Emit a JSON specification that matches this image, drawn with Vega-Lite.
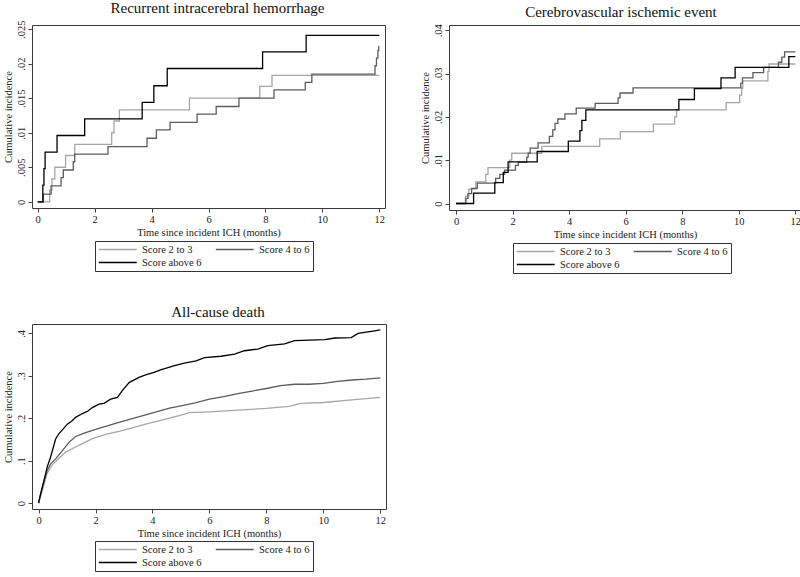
{
  "$schema": "https://vega.github.io/schema/vega-lite/v6.json",
  "background": "white",
  "padding": {"left": 2, "top": 0, "right": 0, "bottom": 0},
  "columns": 2,
  "spacing": {"row": 30, "column": 32},
  "align": "each",
  "resolve": {
    "scale": {"x": "independent", "y": "independent", "color": "independent", "strokeWidth": "independent"},
    "legend": {"color": "independent"}
  },
  "data": {
    "values": [
      {"panel": "a", "group": "Score 2 to 3", "t": 0, "ci": 0},
      {"panel": "a", "group": "Score 2 to 3", "t": 0.42, "ci": 0.0017},
      {"panel": "a", "group": "Score 2 to 3", "t": 0.5, "ci": 0.0033},
      {"panel": "a", "group": "Score 2 to 3", "t": 0.6, "ci": 0.005},
      {"panel": "a", "group": "Score 2 to 3", "t": 0.98, "ci": 0.0067},
      {"panel": "a", "group": "Score 2 to 3", "t": 1.3, "ci": 0.0083},
      {"panel": "a", "group": "Score 2 to 3", "t": 2.6, "ci": 0.01},
      {"panel": "a", "group": "Score 2 to 3", "t": 2.68, "ci": 0.0117},
      {"panel": "a", "group": "Score 2 to 3", "t": 2.87, "ci": 0.0133},
      {"panel": "a", "group": "Score 2 to 3", "t": 5.33, "ci": 0.015},
      {"panel": "a", "group": "Score 2 to 3", "t": 7.8, "ci": 0.0167},
      {"panel": "a", "group": "Score 2 to 3", "t": 8.23, "ci": 0.0183},
      {"panel": "a", "group": "Score 2 to 3", "t": 12, "ci": 0.0183},

      {"panel": "a", "group": "Score 4 to 6", "t": 0, "ci": 0},
      {"panel": "a", "group": "Score 4 to 6", "t": 0.2, "ci": 0.0011},
      {"panel": "a", "group": "Score 4 to 6", "t": 0.47, "ci": 0.0023},
      {"panel": "a", "group": "Score 4 to 6", "t": 0.82, "ci": 0.0035},
      {"panel": "a", "group": "Score 4 to 6", "t": 0.9, "ci": 0.0046},
      {"panel": "a", "group": "Score 4 to 6", "t": 1.25, "ci": 0.0058},
      {"panel": "a", "group": "Score 4 to 6", "t": 1.3, "ci": 0.0069},
      {"panel": "a", "group": "Score 4 to 6", "t": 2.47, "ci": 0.008},
      {"panel": "a", "group": "Score 4 to 6", "t": 3.84, "ci": 0.0092},
      {"panel": "a", "group": "Score 4 to 6", "t": 4.17, "ci": 0.0104},
      {"panel": "a", "group": "Score 4 to 6", "t": 4.65, "ci": 0.0115},
      {"panel": "a", "group": "Score 4 to 6", "t": 5.6, "ci": 0.0127},
      {"panel": "a", "group": "Score 4 to 6", "t": 6.27, "ci": 0.0138},
      {"panel": "a", "group": "Score 4 to 6", "t": 7.07, "ci": 0.015},
      {"panel": "a", "group": "Score 4 to 6", "t": 8.3, "ci": 0.0162},
      {"panel": "a", "group": "Score 4 to 6", "t": 9.4, "ci": 0.0173},
      {"panel": "a", "group": "Score 4 to 6", "t": 9.63, "ci": 0.0185},
      {"panel": "a", "group": "Score 4 to 6", "t": 11.85, "ci": 0.0197},
      {"panel": "a", "group": "Score 4 to 6", "t": 11.9, "ci": 0.0208},
      {"panel": "a", "group": "Score 4 to 6", "t": 11.95, "ci": 0.0219},
      {"panel": "a", "group": "Score 4 to 6", "t": 11.98, "ci": 0.0225},
      {"panel": "a", "group": "Score 4 to 6", "t": 12, "ci": 0.0225},

      {"panel": "a", "group": "Score above 6", "t": 0, "ci": 0},
      {"panel": "a", "group": "Score above 6", "t": 0.18, "ci": 0.0024},
      {"panel": "a", "group": "Score above 6", "t": 0.22, "ci": 0.0048},
      {"panel": "a", "group": "Score above 6", "t": 0.26, "ci": 0.0072},
      {"panel": "a", "group": "Score above 6", "t": 0.68, "ci": 0.0096},
      {"panel": "a", "group": "Score above 6", "t": 1.65, "ci": 0.012},
      {"panel": "a", "group": "Score above 6", "t": 3.67, "ci": 0.0144},
      {"panel": "a", "group": "Score above 6", "t": 4.08, "ci": 0.0168},
      {"panel": "a", "group": "Score above 6", "t": 4.55, "ci": 0.0193},
      {"panel": "a", "group": "Score above 6", "t": 7.9, "ci": 0.0217},
      {"panel": "a", "group": "Score above 6", "t": 9.43, "ci": 0.0241},
      {"panel": "a", "group": "Score above 6", "t": 12, "ci": 0.0241},

      {"panel": "b", "group": "Score 2 to 3", "t": 0, "ci": 0},
      {"panel": "b", "group": "Score 2 to 3", "t": 0.33, "ci": 0.0017},
      {"panel": "b", "group": "Score 2 to 3", "t": 0.45, "ci": 0.0033},
      {"panel": "b", "group": "Score 2 to 3", "t": 0.7, "ci": 0.005},
      {"panel": "b", "group": "Score 2 to 3", "t": 1.05, "ci": 0.0067},
      {"panel": "b", "group": "Score 2 to 3", "t": 1.13, "ci": 0.0083},
      {"panel": "b", "group": "Score 2 to 3", "t": 1.9, "ci": 0.01},
      {"panel": "b", "group": "Score 2 to 3", "t": 1.97, "ci": 0.0116},
      {"panel": "b", "group": "Score 2 to 3", "t": 3.03, "ci": 0.0132},
      {"panel": "b", "group": "Score 2 to 3", "t": 5.08, "ci": 0.0149},
      {"panel": "b", "group": "Score 2 to 3", "t": 5.81, "ci": 0.0166},
      {"panel": "b", "group": "Score 2 to 3", "t": 6.98, "ci": 0.0183},
      {"panel": "b", "group": "Score 2 to 3", "t": 7.73, "ci": 0.02},
      {"panel": "b", "group": "Score 2 to 3", "t": 7.8, "ci": 0.0216},
      {"panel": "b", "group": "Score 2 to 3", "t": 9.55, "ci": 0.0233},
      {"panel": "b", "group": "Score 2 to 3", "t": 10.03, "ci": 0.025},
      {"panel": "b", "group": "Score 2 to 3", "t": 10.1, "ci": 0.0266},
      {"panel": "b", "group": "Score 2 to 3", "t": 10.14, "ci": 0.0283},
      {"panel": "b", "group": "Score 2 to 3", "t": 11.03, "ci": 0.0305},
      {"panel": "b", "group": "Score 2 to 3", "t": 11.07, "ci": 0.0322},
      {"panel": "b", "group": "Score 2 to 3", "t": 12, "ci": 0.0322},

      {"panel": "b", "group": "Score 4 to 6", "t": 0, "ci": 0},
      {"panel": "b", "group": "Score 4 to 6", "t": 0.35, "ci": 0.0012},
      {"panel": "b", "group": "Score 4 to 6", "t": 0.42, "ci": 0.0023},
      {"panel": "b", "group": "Score 4 to 6", "t": 0.55, "ci": 0.0035},
      {"panel": "b", "group": "Score 4 to 6", "t": 0.75, "ci": 0.0047},
      {"panel": "b", "group": "Score 4 to 6", "t": 1.4, "ci": 0.0058},
      {"panel": "b", "group": "Score 4 to 6", "t": 1.55, "ci": 0.0067},
      {"panel": "b", "group": "Score 4 to 6", "t": 1.72, "ci": 0.0077},
      {"panel": "b", "group": "Score 4 to 6", "t": 2.1, "ci": 0.0088},
      {"panel": "b", "group": "Score 4 to 6", "t": 2.2, "ci": 0.0095},
      {"panel": "b", "group": "Score 4 to 6", "t": 2.5, "ci": 0.0107},
      {"panel": "b", "group": "Score 4 to 6", "t": 2.55, "ci": 0.0116},
      {"panel": "b", "group": "Score 4 to 6", "t": 2.62, "ci": 0.0128},
      {"panel": "b", "group": "Score 4 to 6", "t": 2.9, "ci": 0.014},
      {"panel": "b", "group": "Score 4 to 6", "t": 3.3, "ci": 0.0155},
      {"panel": "b", "group": "Score 4 to 6", "t": 3.42, "ci": 0.017},
      {"panel": "b", "group": "Score 4 to 6", "t": 3.5, "ci": 0.0185},
      {"panel": "b", "group": "Score 4 to 6", "t": 3.6, "ci": 0.0195},
      {"panel": "b", "group": "Score 4 to 6", "t": 3.85, "ci": 0.0207},
      {"panel": "b", "group": "Score 4 to 6", "t": 4.25, "ci": 0.022},
      {"panel": "b", "group": "Score 4 to 6", "t": 4.92, "ci": 0.0231},
      {"panel": "b", "group": "Score 4 to 6", "t": 5.73, "ci": 0.0244},
      {"panel": "b", "group": "Score 4 to 6", "t": 5.8, "ci": 0.0255},
      {"panel": "b", "group": "Score 4 to 6", "t": 6.26, "ci": 0.0267},
      {"panel": "b", "group": "Score 4 to 6", "t": 10.07, "ci": 0.0278},
      {"panel": "b", "group": "Score 4 to 6", "t": 10.13, "ci": 0.029},
      {"panel": "b", "group": "Score 4 to 6", "t": 10.5, "ci": 0.0302},
      {"panel": "b", "group": "Score 4 to 6", "t": 10.88, "ci": 0.0314},
      {"panel": "b", "group": "Score 4 to 6", "t": 11.4, "ci": 0.0326},
      {"panel": "b", "group": "Score 4 to 6", "t": 11.52, "ci": 0.0338},
      {"panel": "b", "group": "Score 4 to 6", "t": 11.62, "ci": 0.035},
      {"panel": "b", "group": "Score 4 to 6", "t": 12, "ci": 0.035},

      {"panel": "b", "group": "Score above 6", "t": 0, "ci": 0},
      {"panel": "b", "group": "Score above 6", "t": 0.62, "ci": 0.0024},
      {"panel": "b", "group": "Score above 6", "t": 1.37, "ci": 0.0048},
      {"panel": "b", "group": "Score above 6", "t": 1.67, "ci": 0.0072},
      {"panel": "b", "group": "Score above 6", "t": 1.84, "ci": 0.0096},
      {"panel": "b", "group": "Score above 6", "t": 2.87, "ci": 0.012},
      {"panel": "b", "group": "Score above 6", "t": 3.97, "ci": 0.0144},
      {"panel": "b", "group": "Score above 6", "t": 4.38, "ci": 0.0168},
      {"panel": "b", "group": "Score above 6", "t": 4.45, "ci": 0.0192},
      {"panel": "b", "group": "Score above 6", "t": 4.59, "ci": 0.0216},
      {"panel": "b", "group": "Score above 6", "t": 7.88, "ci": 0.024},
      {"panel": "b", "group": "Score above 6", "t": 8.43, "ci": 0.0265},
      {"panel": "b", "group": "Score above 6", "t": 9.37, "ci": 0.029},
      {"panel": "b", "group": "Score above 6", "t": 9.87, "ci": 0.0314},
      {"panel": "b", "group": "Score above 6", "t": 11.77, "ci": 0.0339},
      {"panel": "b", "group": "Score above 6", "t": 12, "ci": 0.0339},

      {"panel": "c", "group": "Score 2 to 3", "t": 0, "ci": 0},
      {"panel": "c", "group": "Score 2 to 3", "t": 0.13, "ci": 0.029},
      {"panel": "c", "group": "Score 2 to 3", "t": 0.3, "ci": 0.07},
      {"panel": "c", "group": "Score 2 to 3", "t": 0.48, "ci": 0.09},
      {"panel": "c", "group": "Score 2 to 3", "t": 0.71, "ci": 0.105},
      {"panel": "c", "group": "Score 2 to 3", "t": 0.95, "ci": 0.12},
      {"panel": "c", "group": "Score 2 to 3", "t": 1.18, "ci": 0.128},
      {"panel": "c", "group": "Score 2 to 3", "t": 1.54, "ci": 0.14},
      {"panel": "c", "group": "Score 2 to 3", "t": 1.89, "ci": 0.152},
      {"panel": "c", "group": "Score 2 to 3", "t": 2.36, "ci": 0.162},
      {"panel": "c", "group": "Score 2 to 3", "t": 2.82, "ci": 0.169},
      {"panel": "c", "group": "Score 2 to 3", "t": 3.29, "ci": 0.177},
      {"panel": "c", "group": "Score 2 to 3", "t": 3.76, "ci": 0.186},
      {"panel": "c", "group": "Score 2 to 3", "t": 4.29, "ci": 0.195},
      {"panel": "c", "group": "Score 2 to 3", "t": 4.6, "ci": 0.2},
      {"panel": "c", "group": "Score 2 to 3", "t": 5.0, "ci": 0.207},
      {"panel": "c", "group": "Score 2 to 3", "t": 5.3, "ci": 0.213},
      {"panel": "c", "group": "Score 2 to 3", "t": 6.0, "ci": 0.215},
      {"panel": "c", "group": "Score 2 to 3", "t": 7.0, "ci": 0.219},
      {"panel": "c", "group": "Score 2 to 3", "t": 8.0, "ci": 0.223},
      {"panel": "c", "group": "Score 2 to 3", "t": 8.8, "ci": 0.228},
      {"panel": "c", "group": "Score 2 to 3", "t": 9.2, "ci": 0.235},
      {"panel": "c", "group": "Score 2 to 3", "t": 10.0, "ci": 0.237},
      {"panel": "c", "group": "Score 2 to 3", "t": 11.0, "ci": 0.243},
      {"panel": "c", "group": "Score 2 to 3", "t": 12, "ci": 0.249},

      {"panel": "c", "group": "Score 4 to 6", "t": 0, "ci": 0},
      {"panel": "c", "group": "Score 4 to 6", "t": 0.13, "ci": 0.037},
      {"panel": "c", "group": "Score 4 to 6", "t": 0.3, "ci": 0.076},
      {"panel": "c", "group": "Score 4 to 6", "t": 0.42, "ci": 0.092},
      {"panel": "c", "group": "Score 4 to 6", "t": 0.6, "ci": 0.104},
      {"panel": "c", "group": "Score 4 to 6", "t": 0.83, "ci": 0.123},
      {"panel": "c", "group": "Score 4 to 6", "t": 1.07, "ci": 0.143},
      {"panel": "c", "group": "Score 4 to 6", "t": 1.3, "ci": 0.157},
      {"panel": "c", "group": "Score 4 to 6", "t": 1.65, "ci": 0.166},
      {"panel": "c", "group": "Score 4 to 6", "t": 2.12, "ci": 0.176},
      {"panel": "c", "group": "Score 4 to 6", "t": 2.47, "ci": 0.183},
      {"panel": "c", "group": "Score 4 to 6", "t": 2.82, "ci": 0.19},
      {"panel": "c", "group": "Score 4 to 6", "t": 3.29, "ci": 0.199},
      {"panel": "c", "group": "Score 4 to 6", "t": 3.76, "ci": 0.208},
      {"panel": "c", "group": "Score 4 to 6", "t": 4.29, "ci": 0.218},
      {"panel": "c", "group": "Score 4 to 6", "t": 4.6, "ci": 0.224},
      {"panel": "c", "group": "Score 4 to 6", "t": 5.0, "ci": 0.229},
      {"panel": "c", "group": "Score 4 to 6", "t": 5.5, "ci": 0.236},
      {"panel": "c", "group": "Score 4 to 6", "t": 6.0, "ci": 0.245},
      {"panel": "c", "group": "Score 4 to 6", "t": 6.5, "ci": 0.251},
      {"panel": "c", "group": "Score 4 to 6", "t": 7.0, "ci": 0.258},
      {"panel": "c", "group": "Score 4 to 6", "t": 7.5, "ci": 0.264},
      {"panel": "c", "group": "Score 4 to 6", "t": 8.0, "ci": 0.27},
      {"panel": "c", "group": "Score 4 to 6", "t": 8.5, "ci": 0.277},
      {"panel": "c", "group": "Score 4 to 6", "t": 9.0, "ci": 0.28},
      {"panel": "c", "group": "Score 4 to 6", "t": 9.5, "ci": 0.28},
      {"panel": "c", "group": "Score 4 to 6", "t": 10.0, "ci": 0.282},
      {"panel": "c", "group": "Score 4 to 6", "t": 10.5, "ci": 0.287},
      {"panel": "c", "group": "Score 4 to 6", "t": 11.0, "ci": 0.29},
      {"panel": "c", "group": "Score 4 to 6", "t": 11.5, "ci": 0.292},
      {"panel": "c", "group": "Score 4 to 6", "t": 12, "ci": 0.295},

      {"panel": "c", "group": "Score above 6", "t": 0, "ci": 0},
      {"panel": "c", "group": "Score above 6", "t": 0.07, "ci": 0.021},
      {"panel": "c", "group": "Score above 6", "t": 0.19, "ci": 0.053},
      {"panel": "c", "group": "Score above 6", "t": 0.3, "ci": 0.084},
      {"panel": "c", "group": "Score above 6", "t": 0.42, "ci": 0.108},
      {"panel": "c", "group": "Score above 6", "t": 0.6, "ci": 0.151},
      {"panel": "c", "group": "Score above 6", "t": 0.71, "ci": 0.163},
      {"panel": "c", "group": "Score above 6", "t": 0.83, "ci": 0.172},
      {"panel": "c", "group": "Score above 6", "t": 1.01, "ci": 0.186},
      {"panel": "c", "group": "Score above 6", "t": 1.18, "ci": 0.194},
      {"panel": "c", "group": "Score above 6", "t": 1.3, "ci": 0.202},
      {"panel": "c", "group": "Score above 6", "t": 1.54, "ci": 0.211},
      {"panel": "c", "group": "Score above 6", "t": 1.71, "ci": 0.216},
      {"panel": "c", "group": "Score above 6", "t": 1.89, "ci": 0.225},
      {"panel": "c", "group": "Score above 6", "t": 2.12, "ci": 0.233},
      {"panel": "c", "group": "Score above 6", "t": 2.3, "ci": 0.235},
      {"panel": "c", "group": "Score above 6", "t": 2.53, "ci": 0.245},
      {"panel": "c", "group": "Score above 6", "t": 2.77, "ci": 0.249},
      {"panel": "c", "group": "Score above 6", "t": 2.94, "ci": 0.265},
      {"panel": "c", "group": "Score above 6", "t": 3.18, "ci": 0.284},
      {"panel": "c", "group": "Score above 6", "t": 3.29, "ci": 0.288},
      {"panel": "c", "group": "Score above 6", "t": 3.53, "ci": 0.296},
      {"panel": "c", "group": "Score above 6", "t": 3.76, "ci": 0.302},
      {"panel": "c", "group": "Score above 6", "t": 4.05, "ci": 0.308},
      {"panel": "c", "group": "Score above 6", "t": 4.29, "ci": 0.314},
      {"panel": "c", "group": "Score above 6", "t": 4.77, "ci": 0.324},
      {"panel": "c", "group": "Score above 6", "t": 5.12, "ci": 0.33},
      {"panel": "c", "group": "Score above 6", "t": 5.53, "ci": 0.335},
      {"panel": "c", "group": "Score above 6", "t": 5.83, "ci": 0.343},
      {"panel": "c", "group": "Score above 6", "t": 6.41, "ci": 0.346},
      {"panel": "c", "group": "Score above 6", "t": 6.88, "ci": 0.351},
      {"panel": "c", "group": "Score above 6", "t": 7.23, "ci": 0.359},
      {"panel": "c", "group": "Score above 6", "t": 7.7, "ci": 0.363},
      {"panel": "c", "group": "Score above 6", "t": 8.05, "ci": 0.371},
      {"panel": "c", "group": "Score above 6", "t": 8.64, "ci": 0.375},
      {"panel": "c", "group": "Score above 6", "t": 8.99, "ci": 0.383},
      {"panel": "c", "group": "Score above 6", "t": 10.05, "ci": 0.385},
      {"panel": "c", "group": "Score above 6", "t": 10.4, "ci": 0.389},
      {"panel": "c", "group": "Score above 6", "t": 10.98, "ci": 0.39},
      {"panel": "c", "group": "Score above 6", "t": 11.22, "ci": 0.4},
      {"panel": "c", "group": "Score above 6", "t": 11.8, "ci": 0.406},
      {"panel": "c", "group": "Score above 6", "t": 12, "ci": 0.408}
    ]
  },
  "concat": [
    {
      "width": 353, "height": 183,
      "title": {"text": "Recurrent intracerebral  hemorrhage", "dx": 9},
      "transform": [{"filter": {"field": "panel", "equal": "a"}}],
      "mark": {"type": "line", "interpolate": "step-after"},
      "encoding": {
        "x": {"field": "t", "type": "quantitative", "scale": {"domain": [-0.2, 12.2], "nice": false, "zero": false},
              "axis": {"values": [0, 2, 4, 6, 8, 10, 12], "title": "Time since incident ICH (months)"}},
        "y": {"field": "ci", "type": "quantitative", "scale": {"domain": [-0.0009, 0.0256], "nice": false, "zero": false},
              "axis": {"values": [0, 0.005, 0.01, 0.015, 0.02, 0.025], "title": "Cumulative incidence",
                       "labelExpr": "datum.value == 0 ? '0' : substring(format(datum.value, '.3~f'), 1)"}},
        "color": {"field": "group", "type": "nominal",
                  "scale": {"domain": ["Score 2 to 3", "Score 4 to 6", "Score above 6"], "range": ["#a6a6a6", "#5c5c5c", "#000000"]},
                  "legend": {"orient": "none", "legendX": 63, "legendY": 216, "title": null}},
        "strokeWidth": {"field": "group", "type": "ordinal",
                        "scale": {"domain": ["Score 2 to 3", "Score 4 to 6", "Score above 6"], "range": [1.3, 1.3, 1.7]},
                        "legend": null}
      }
    },
    {
      "width": 352, "height": 185,
      "title": {"text": "Cerebrovascular ischemic event", "dx": -4},
      "transform": [{"filter": {"field": "panel", "equal": "b"}}],
      "mark": {"type": "line", "interpolate": "step-after"},
      "encoding": {
        "x": {"field": "t", "type": "quantitative", "scale": {"domain": [-0.25, 12.2], "nice": false, "zero": false},
              "axis": {"values": [0, 2, 4, 6, 8, 10, 12], "title": "Time since incident ICH (months)"}},
        "y": {"field": "ci", "type": "quantitative", "scale": {"domain": [-0.0015, 0.0412], "nice": false, "zero": false},
              "axis": {"values": [0, 0.01, 0.02, 0.03, 0.04], "title": "Cumulative incidence",
                       "labelExpr": "datum.value == 0 ? '0' : substring(format(datum.value, '.3~f'), 1)"}},
        "color": {"field": "group", "type": "nominal",
                  "scale": {"domain": ["Score 2 to 3", "Score 4 to 6", "Score above 6"], "range": ["#a6a6a6", "#5c5c5c", "#000000"]},
                  "legend": {"orient": "none", "legendX": 64, "legendY": 218, "title": null}},
        "strokeWidth": {"field": "group", "type": "ordinal",
                        "scale": {"domain": ["Score 2 to 3", "Score 4 to 6", "Score above 6"], "range": [1.3, 1.3, 1.7]},
                        "legend": null}
      }
    },
    {
      "width": 354, "height": 185,
      "title": {"text": "All-cause death", "dx": 9},
      "transform": [{"filter": {"field": "panel", "equal": "c"}}],
      "mark": {"type": "line", "interpolate": "linear"},
      "encoding": {
        "x": {"field": "t", "type": "quantitative", "scale": {"domain": [-0.23, 12.2], "nice": false, "zero": false},
              "axis": {"values": [0, 2, 4, 6, 8, 10, 12], "title": "Time since incident ICH (months)"}},
        "y": {"field": "ci", "type": "quantitative", "scale": {"domain": [-0.014, 0.422], "nice": false, "zero": false},
              "axis": {"values": [0, 0.1, 0.2, 0.3, 0.4], "title": "Cumulative incidence",
                       "labelExpr": "datum.value == 0 ? '0' : substring(format(datum.value, '.3~f'), 1)"}},
        "color": {"field": "group", "type": "nominal",
                  "scale": {"domain": ["Score 2 to 3", "Score 4 to 6", "Score above 6"], "range": ["#a6a6a6", "#5c5c5c", "#000000"]},
                  "legend": {"orient": "none", "legendX": 63, "legendY": 217, "title": null}},
        "strokeWidth": {"field": "group", "type": "ordinal",
                        "scale": {"domain": ["Score 2 to 3", "Score 4 to 6", "Score above 6"], "range": [1.3, 1.3, 1.5]},
                        "legend": null}
      }
    }
  ],
  "config": {
    "font": "Liberation Serif",
    "view": {"stroke": "#3a3a3a", "strokeWidth": 1},
    "axis": {"domain": false, "grid": false, "ticks": true, "tickColor": "#444444", "tickSize": 4,
             "labelFont": "Liberation Serif", "labelFontSize": 10.5, "labelColor": "#222222",
             "titleFont": "Liberation Serif", "titleFontSize": 10.5, "titleFontWeight": "normal", "titleColor": "#222222",
             "labelPadding": 2, "titlePadding": 3},
    "axisY": {"labelAngle": -90, "labelAlign": "center", "labelBaseline": "bottom"},
    "title": {"font": "Liberation Serif", "fontSize": 15, "fontWeight": "normal", "color": "#111111", "anchor": "middle", "offset": 0},
    "legend": {"labelFont": "Liberation Serif", "labelFontSize": 10.5, "labelColor": "#222222",
               "symbolType": "M-1,0H7", "symbolSize": 90.25, "symbolStrokeWidth": 1.5,
               "strokeColor": "#333333", "padding": 3, "columnPadding": 11, "rowPadding": 2, "labelOffset": 33,
               "columns": 2, "direction": "horizontal"}
  }
}
